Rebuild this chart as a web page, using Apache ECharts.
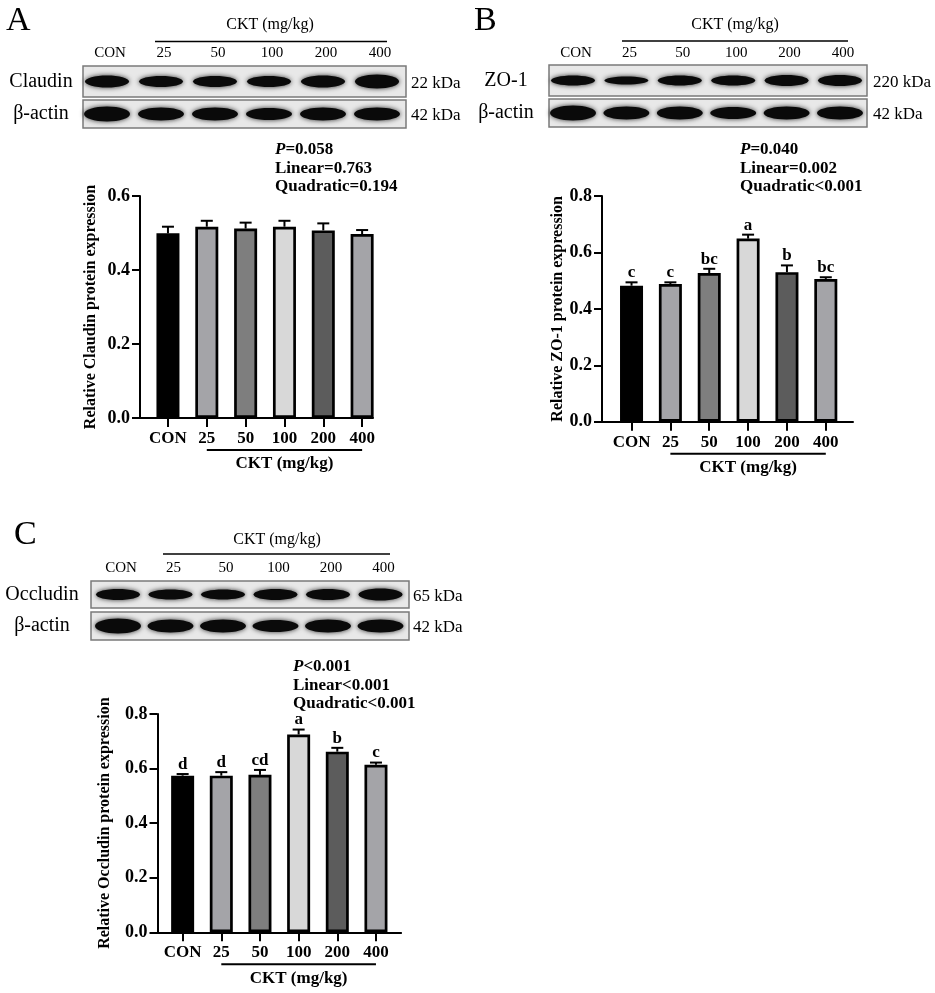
<!DOCTYPE html>
<html lang="en">
<head>
<meta charset="UTF-8">
<title>Claudin, ZO-1 and Occludin expression</title>
<script src="https://cdn.jsdelivr.net/npm/echarts@6/dist/echarts.min.js"></script>
<style>
    body { margin: 0; background: #fff; }
    #main { width: 935px; height: 993px; }
</style>
</head>
<body>
<div id="main"></div>
<script>
// data
var groups = ['CON', '25', '50', '100', '200', '400'];
var barColors = ['#000000', '#a4a4a8', '#7e7e7e', '#d8d8d8', '#5c5c5c', '#a4a4a8'];

var claudinMean = [0.499, 0.517, 0.512, 0.517, 0.507, 0.497];
var claudinSem = [0.018, 0.016, 0.016, 0.016, 0.019, 0.011];
var claudinLetters = ['', '', '', '', '', ''];
var claudinStats = ['P=0.058', 'Linear=0.763', 'Quadratic=0.194'];

var zo1Mean = [0.482, 0.488, 0.527, 0.649, 0.530, 0.506];
var zo1Sem = [0.012, 0.006, 0.015, 0.014, 0.024, 0.006];
var zo1Letters = ['c', 'c', 'bc', 'a', 'b', 'bc'];
var zo1Stats = ['P=0.040', 'Linear=0.002', 'Quadratic<0.001'];

var occludinMean = [0.574, 0.574, 0.577, 0.725, 0.662, 0.614];
var occludinSem = [0.006, 0.013, 0.018, 0.018, 0.014, 0.008];
var occludinLetters = ['d', 'd', 'cd', 'a', 'b', 'c'];
var occludinStats = ['P<0.001', 'Linear<0.001', 'Quadratic<0.001'];

var serif = '"Liberation Serif", "Times New Roman", serif';

// layout of the three panels
var panels = [
    {
        tag: 'A', protein: 'Claudin', kda: '22 kDa', mean: claudinMean, sem: claudinSem,
        letters: claudinLetters, stats: claudinStats, yMax: 0.6,
        grid: { left: 140, top: 196, width: 233, height: 222 }, xMin: -0.72, xMax: 5.28, nameGap: 41,
        blot: { x: 83, w: 323, y1: 66, h1: 31, y2: 100, h2: 28, lane0: 24, step: 54, labelY: 53,
            headCx: 270, headY: 25, lineX1: 155, lineX2: 387, lineY: 41.5, nameCx: 41, kdaX: 411,
            tagX: 6, tagY: 21, statsX: 275, statsY: 150,
            bands1: [12, 11, 11, 11, 12, 14], bands2: [15, 13, 13, 12, 13, 13] }
    },
    {
        tag: 'B', protein: 'ZO-1', kda: '220 kDa', mean: zo1Mean, sem: zo1Sem,
        letters: zo1Letters, stats: zo1Stats, yMax: 0.8,
        grid: { left: 602, top: 196, width: 251, height: 225.7 }, xMin: -0.76, xMax: 5.70, nameGap: 36,
        blot: { x: 549, w: 318, y1: 65, h1: 31, y2: 99, h2: 28, lane0: 24, step: 53.4, labelY: 53,
            headCx: 735, headY: 25, lineX1: 622, lineX2: 848, lineY: 41, nameCx: 506, kdaX: 873,
            tagX: 474, tagY: 21, statsX: 740, statsY: 150,
            bands1: [10, 8, 10, 10, 11, 11], bands2: [15, 13, 13, 12, 13, 13] }
    },
    {
        tag: 'C', protein: 'Occludin', kda: '65 kDa', mean: occludinMean, sem: occludinSem,
        letters: occludinLetters, stats: occludinStats, yMax: 0.8,
        grid: { left: 157.5, top: 714, width: 243.6, height: 218.3 }, xMin: -0.65, xMax: 5.65, nameGap: 45,
        blot: { x: 91, w: 318, y1: 581, h1: 27, y2: 612, h2: 28, lane0: 27, step: 52.5, labelY: 568,
            headCx: 277, headY: 540, lineX1: 163, lineX2: 390, lineY: 554, nameCx: 42, kdaX: 413,
            tagX: 14, tagY: 535, statsX: 293, statsY: 667,
            bands1: [11, 10, 10, 11, 11, 12], bands2: [15, 13, 13, 12, 13, 13] }
    }
];

function blotGraphics(p) {
    var b = p.blot;
    var els = [];
    els.push({ type: 'text', x: b.tagX, y: b.tagY, style: { text: p.tag, font: '34px ' + serif, fill: '#000', verticalAlign: 'middle' } });
    els.push({ type: 'text', x: b.headCx, y: b.headY, style: { text: 'CKT (mg/kg)', font: '16px ' + serif, fill: '#000', align: 'center', verticalAlign: 'middle' } });
    els.push({ type: 'line', shape: { x1: b.lineX1, y1: b.lineY, x2: b.lineX2, y2: b.lineY }, style: { stroke: '#000', lineWidth: 1.5 } });

    var rows = [
        { y: b.y1, h: b.h1, name: p.protein, kda: p.kda, bands: b.bands1, bw: 44 },
        { y: b.y2, h: b.h2, name: 'β-actin', kda: '42 kDa', bands: b.bands2, bw: 46 }
    ];
    rows.forEach(function (r) {
        els.push({ type: 'rect', shape: { x: b.x, y: r.y, width: b.w, height: r.h },
            style: { fill: '#e8e8e8', stroke: '#7a7a7a', lineWidth: 1.5 } });
        r.bands.forEach(function (bh, k) {
            var cx = b.x + b.lane0 + k * b.step;
            var cy = r.y + r.h / 2;
            els.push({ type: 'ellipse', shape: { cx: cx, cy: cy, rx: r.bw / 2, ry: bh / 2 },
                style: { fill: '#0a0a0a', shadowBlur: 5, shadowColor: 'rgba(0,0,0,0.8)' } });
        });
        els.push({ type: 'text', x: b.nameCx, y: r.y + r.h / 2, style: { text: r.name, font: '20px ' + serif, fill: '#000', align: 'center', verticalAlign: 'middle' } });
        els.push({ type: 'text', x: b.kdaX, y: r.y + r.h / 2 + 2, style: { text: r.kda, font: '17px ' + serif, fill: '#000', verticalAlign: 'middle' } });
    });

    groups.forEach(function (g, k) {
        els.push({ type: 'text', x: b.x + b.lane0 + k * b.step + 3, y: b.labelY,
            style: { text: g, font: '15px ' + serif, fill: '#000', align: 'center', verticalAlign: 'middle' } });
    });

    p.stats.forEach(function (s, k) {
        els.push({ type: 'text', x: b.statsX, y: b.statsY + k * 18.3,
            style: {
                text: s.replace(/^P/, '{i|P}'), font: 'bold 17px ' + serif, fill: '#000', verticalAlign: 'middle',
                rich: { i: { fontStyle: 'italic', fontWeight: 'bold', fontSize: 17, fontFamily: serif, fill: '#000' } }
            } });
    });
    return els;
}

var grids = [], xAxes = [], yAxes = [], series = [], graphics = [];
var ticks = [0, 1, 2, 3, 4, 5];

panels.forEach(function (p, i) {
    grids.push({ left: p.grid.left, top: p.grid.top, width: p.grid.width, height: p.grid.height, outerBoundsMode: 'none' });

    xAxes.push({
        gridIndex: i, type: 'value', min: p.xMin, max: p.xMax,
        axisLine: { show: true, onZero: false, lineStyle: { color: '#000', width: 2 } },
        axisTick: { show: true, customValues: ticks, length: 9, lineStyle: { color: '#000', width: 2 } },
        axisLabel: { customValues: ticks, margin: 12, formatter: function (v) { return groups[Math.round(v)]; },
            color: '#000', fontFamily: serif, fontWeight: 'bold', fontSize: 17 },
        splitLine: { show: false }
    });

    yAxes.push({
        gridIndex: i, type: 'value', min: 0, max: p.yMax, interval: 0.2,
        name: 'Relative ' + p.protein + ' protein expression', nameLocation: 'middle', nameGap: p.nameGap,
        nameTextStyle: { color: '#000', fontFamily: serif, fontWeight: 'bold', fontSize: 16 },
        axisLine: { show: true, onZero: false, lineStyle: { color: '#000', width: 2 } },
        axisTick: { show: true, length: 8, lineStyle: { color: '#000', width: 2 } },
        axisLabel: { margin: 10, formatter: function (v) { return v.toFixed(1); },
            color: '#000', fontFamily: serif, fontWeight: 'bold', fontSize: 18 },
        splitLine: { show: false }
    });

    series.push({
        type: 'bar', xAxisIndex: i, yAxisIndex: i, barWidth: 23, z: 2,
        data: p.mean.map(function (v, k) {
            return { value: [k, v], itemStyle: { color: barColors[k] } };
        }),
        itemStyle: { borderColor: '#000', borderWidth: 2.7 }
    });

    series.push({
        type: 'custom', xAxisIndex: i, yAxisIndex: i, z: 3,
        data: p.mean.map(function (v, k) { return [k, v, v + p.sem[k]]; }),
        renderItem: function (params, api) {
            var x = api.value(0);
            var base = api.coord([x, api.value(1)]);
            var top = api.coord([x, api.value(2)]);
            return {
                type: 'group', children: [
                    { type: 'line', shape: { x1: base[0], y1: base[1], x2: top[0], y2: top[1] }, style: { stroke: '#000', lineWidth: 2 } },
                    { type: 'line', shape: { x1: top[0] - 6, y1: top[1], x2: top[0] + 6, y2: top[1] }, style: { stroke: '#000', lineWidth: 2 } },
                    { type: 'text', x: top[0], y: top[1] - 1,
                        style: { text: p.letters[params.dataIndex], font: 'bold 17px ' + serif, fill: '#000', align: 'center', verticalAlign: 'bottom' } }
                ]
            };
        }
    });

    // bracket under the dose labels, from the "25" tick to the "400" tick
    series.push({
        type: 'custom', xAxisIndex: i, yAxisIndex: i, z: 3, clip: false,
        data: [[1, 0, 5]],
        renderItem: function (params, api) {
            var a = api.coord([api.value(0), api.value(1)]);
            var b = api.coord([api.value(2), api.value(1)]);
            return {
                type: 'group', children: [
                    { type: 'line', shape: { x1: a[0], y1: a[1] + 32, x2: b[0], y2: b[1] + 32 }, style: { stroke: '#000', lineWidth: 2 } },
                    { type: 'text', x: (a[0] + b[0]) / 2, y: a[1] + 46,
                        style: { text: 'CKT (mg/kg)', font: 'bold 17px ' + serif, fill: '#000', align: 'center', verticalAlign: 'middle' } }
                ]
            };
        }
    });

    graphics = graphics.concat(blotGraphics(p));
});

var chart = echarts.init(document.getElementById('main'));
chart.setOption({
    backgroundColor: '#fff',
    animation: false,
    textStyle: { fontFamily: serif },
    grid: grids,
    xAxis: xAxes,
    yAxis: yAxes,
    series: series,
    graphic: graphics
});
</script>
</body>
</html>
